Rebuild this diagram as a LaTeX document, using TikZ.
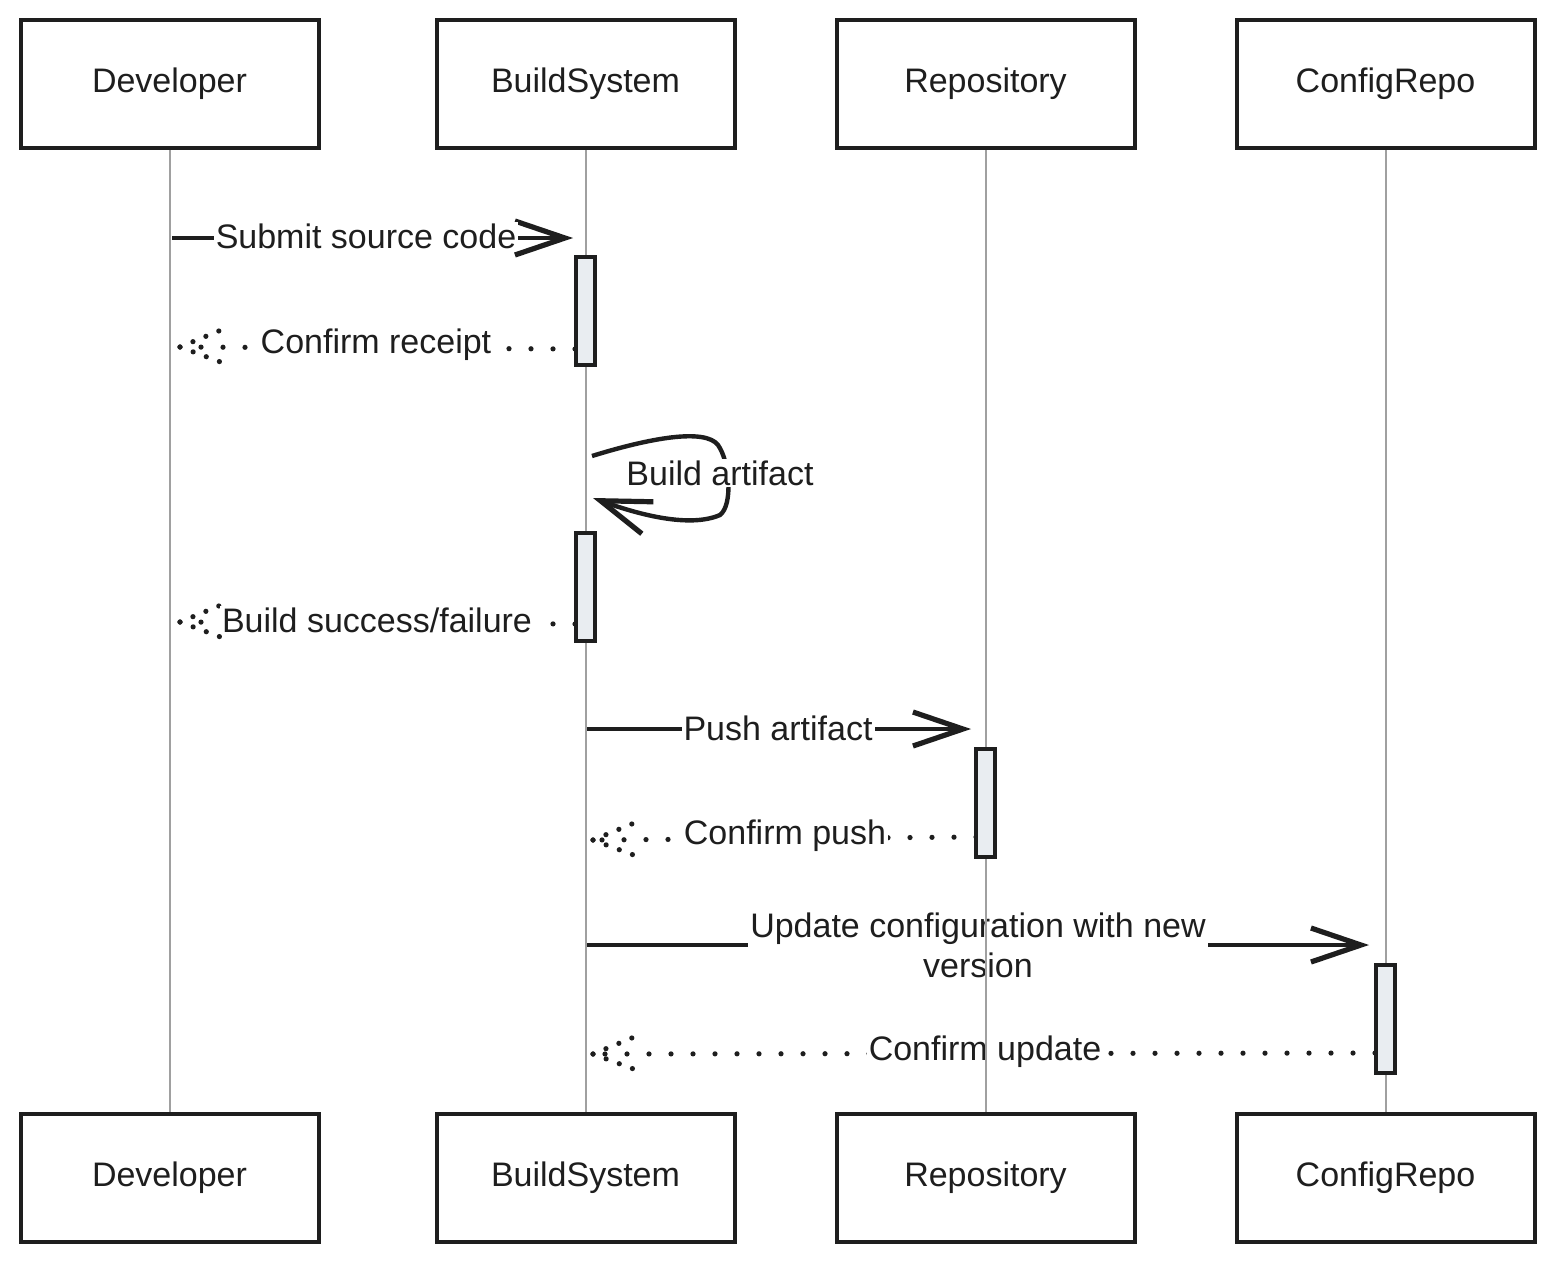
\documentclass[tikz,border=0pt]{standalone}
\usepackage{fontspec}
\setmainfont{Liberation Sans}
\usetikzlibrary{arrows.meta}
\definecolor{ink}{HTML}{1E1E1E}
\definecolor{life}{HTML}{A0A0A0}
\definecolor{actfill}{HTML}{E9EDF1}
\begin{document}
\begin{tikzpicture}[x=0.5pt,y=-0.5pt,
  actor/.style={draw=ink, line width=2pt, fill=white, minimum width=149pt, minimum height=64pt, inner sep=0pt, font=\fontsize{17}{20}\selectfont, text=ink},
  actbar/.style={draw=ink, line width=1.6pt, fill=actfill, minimum width=9.5pt, minimum height=54pt, inner sep=0pt},
  lifeline/.style={draw=life, line width=1pt},
  msg/.style={draw=ink, line width=2.2pt, -{Straight Barb[length=25pt,width=17pt,line width=2.6pt]}},
  reply/.style={draw=ink, line width=2.6pt, line cap=round, dash pattern=on 0pt off 11pt},
  barb/.style={draw=ink, line width=2.6pt, line cap=round, dash pattern=on 0pt off 7pt},
  lbl/.style={fill=white, text=ink, font=\fontsize{17}{20}\selectfont, inner sep=1pt, align=center}
]
\useasboundingbox (0,0) rectangle (1556,1264);
\fill[white] (0,0) rectangle (1556,1264);

% actors
\node[actor] (dev)  at (169.5,84) {Developer};
\node[actor] (bs)   at (585.5,84) {BuildSystem};
\node[actor] (repo) at (985.5,84) {Repository};
\node[actor] (cfg)  at (1385.5,84) {ConfigRepo};
\node[actor] (devb)  at (169.5,1178) {Developer};
\node[actor] (bsb)   at (585.5,1178) {BuildSystem};
\node[actor] (repob) at (985.5,1178) {Repository};
\node[actor] (cfgb)  at (1385.5,1178) {ConfigRepo};

% message end points
\coordinate (m1s) at (172,238);  \coordinate (m1e) at (573,238);
\coordinate (m2s) at (575,349);  \coordinate (m2e) at (180,347);
\coordinate (m3s) at (592,456);  \coordinate (m3e) at (593,498);
\coordinate (m4s) at (575,624);  \coordinate (m4e) at (180,622);
\coordinate (m5s) at (587,729);  \coordinate (m5e) at (971,729);
\coordinate (m6s) at (976,837);  \coordinate (m6e) at (593,840);
\coordinate (m7s) at (587,945);  \coordinate (m7e) at (1369,945);
\coordinate (m8s) at (1375,1053); \coordinate (m8e) at (593,1054);

% messages
\draw[msg] (m1s) -- (m1e);
\draw[reply] (m2s) -- (m2e);
\draw[barb] (m2e) -- ++(46,-19);
\draw[barb] (m2e) -- ++(46,17);
\draw[msg] (m3s) .. controls (650,438) and (705,428) .. (718,445)
  .. controls (730,462) and (733,505) .. (720,515)
  .. controls (690,528) and (640,515) .. (m3e);
\draw[reply] (m4s) -- (m4e);
\draw[barb] (m4e) -- ++(46,-19);
\draw[barb] (m4e) -- ++(46,17);
\draw[msg] (m5s) -- (m5e);
\draw[reply] (m6s) -- (m6e);
\draw[barb] (m6e) -- ++(46,-19);
\draw[barb] (m6e) -- ++(46,17);
\draw[msg] (m7s) -- (m7e);
\draw[reply] (m8s) -- (m8e);
\draw[barb] (m8e) -- ++(46,-19);
\draw[barb] (m8e) -- ++(46,17);

% labels
\node[lbl] (l1) at (366,236) {Submit source code};
\node[lbl] (l2) at (376,345) {Confirm receipt};
\node[lbl] (l3) at (720,473) {Build artifact};
\node[lbl] (l4) at (377,620) {Build success/failure};
\node[lbl] (l5) at (778,728) {Push artifact};
\node[lbl] (l6) at (785,836) {Confirm push};
\node[lbl] (l7) at (978,945) {Update configuration with new\\version};
\node[lbl] (l8) at (985,1052) {Confirm update};

% lifelines
\draw[lifeline] (dev.south) -- (devb.north);
\draw[lifeline] (bs.south) -- (bsb.north);
\draw[lifeline] (repo.south) -- (repob.north);
\draw[lifeline] (cfg.south) -- (cfgb.north);

% activations
\node[actbar] (a1) at (585.5,311) {};
\node[actbar] (a2) at (585.5,587) {};
\node[actbar] (a3) at (985.5,803) {};
\node[actbar] (a4) at (1385.5,1019) {};
\end{tikzpicture}
\end{document}
